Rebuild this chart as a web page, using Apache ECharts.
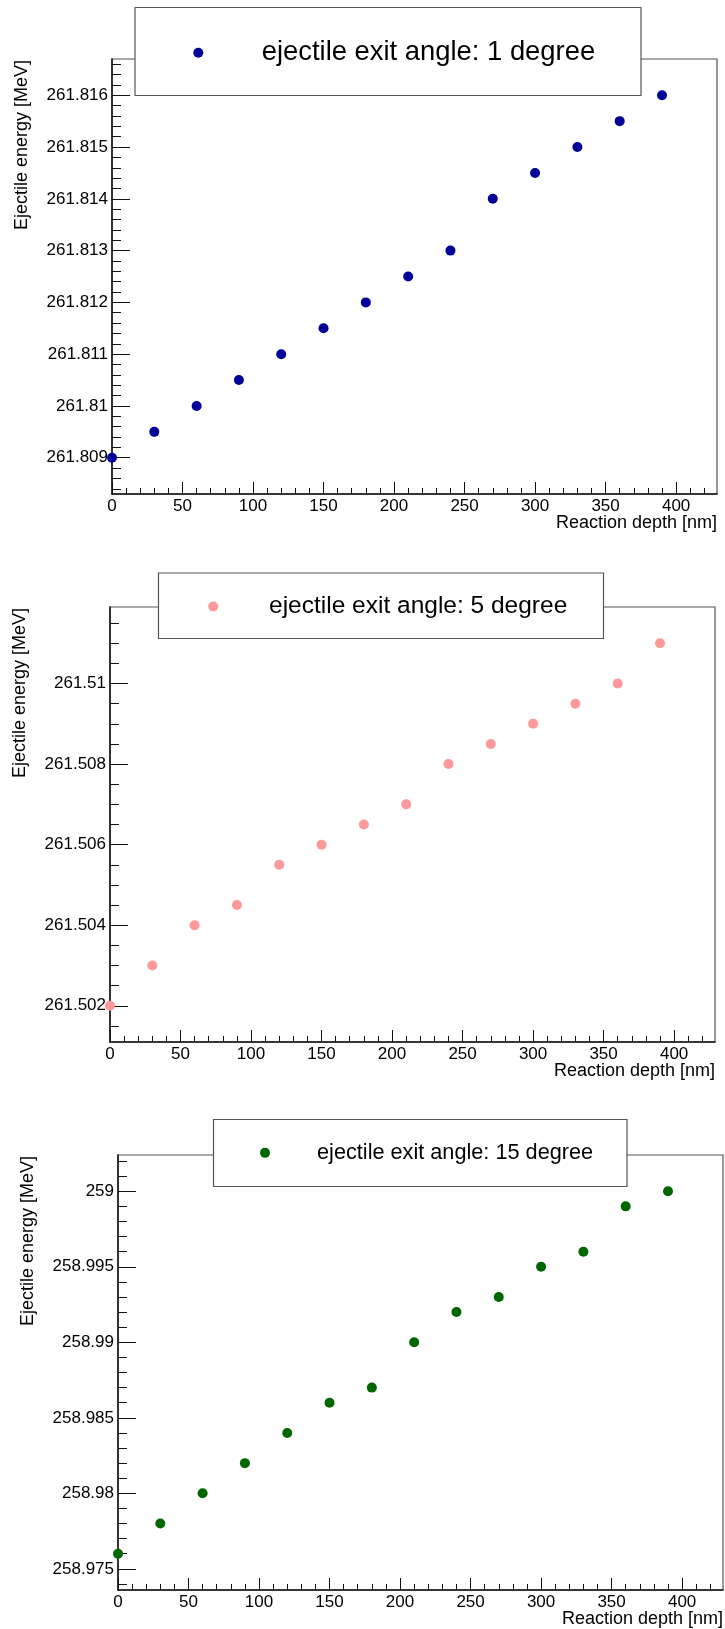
<!DOCTYPE html>
<html>
<head>
<meta charset="utf-8">
<script src="https://cdn.jsdelivr.net/npm/echarts@6/dist/echarts.min.js"></script>
<style>
  html, body { margin: 0; padding: 0; background: #ffffff; }
  #chart { width: 725px; height: 1629px; }
</style>
</head>
<body>
<div id="chart"></div>
<script>
// Reaction depth in nm, shared by the three exit-angle scans
const depth = [0, 30, 60, 90, 120, 150, 180, 210, 240, 270, 300, 330, 360, 390];

// Ejectile energy in MeV for each exit angle
const energy1deg  = [261.809, 261.8095, 261.810, 261.8105, 261.811, 261.8115, 261.812,
                     261.8125, 261.813, 261.814, 261.8145, 261.815, 261.8155, 261.816];
const energy5deg  = [261.502, 261.503, 261.504, 261.5045, 261.5055, 261.506, 261.5065,
                     261.507, 261.508, 261.5085, 261.509, 261.5095, 261.510, 261.511];
const energy15deg = [258.976, 258.978, 258.980, 258.982, 258.984, 258.986, 258.987,
                     258.990, 258.992, 258.993, 258.995, 258.996, 258.999, 259.000];

const seriesNames = [
  'ejectile exit angle: 1 degree',
  'ejectile exit angle: 5 degree',
  'ejectile exit angle: 15 degree'
];

// Labelled ticks
const depthTicks    = [0, 50, 100, 150, 200, 250, 300, 350, 400];
const energyTicks1  = [261.809, 261.81, 261.811, 261.812, 261.813, 261.814, 261.815, 261.816];
const energyTicks5  = [261.502, 261.504, 261.506, 261.508, 261.51];
const energyTicks15 = [258.975, 258.98, 258.985, 258.99, 258.995, 259];

// Axis ranges (10% padding around the data, as the graphs were drawn)
const depthRange    = [0, 429];
const energyRange1  = [261.8083, 261.8167];
const energyRange5  = [261.5011, 261.5119];
const energyRange15 = [258.9736, 259.0024];

const FONT = "'Liberation Sans', Arial, Helvetica, sans-serif";
const INK = '#111111';
const FRAME = '#555555';

// Small ticks between the labelled ones
function minorTicks(range, step, majors) {
  const out = [];
  const n0 = Math.ceil(range[0] / step - 1e-6);
  const n1 = Math.floor(range[1] / step + 1e-6);
  for (let n = n0; n <= n1; n++) {
    const v = +(n * step).toFixed(8);
    if (!majors.some(m => Math.abs(m - v) < step * 1e-3)) out.push(v);
  }
  return out;
}

const fmt = v => String(parseFloat((+v).toFixed(6)));

// legend: marker centre (cx, cy), where the text starts, and font size
const panels = [
  {
    name: seriesNames[0], x: depth, y: energy1deg, color: '#000099',
    yTicks: energyTicks1, yRange: energyRange1, yMinorStep: 0.0002,
    grid: { left: 112, top: 59, width: 605, height: 435 },
    box: { x: 135, y: 7.5, width: 506, height: 88 },
    legend: { cx: 198.3, cy: 51.7, textX: 261.7, fontSize: 27.4 }
  },
  {
    name: seriesNames[1], x: depth, y: energy5deg, color: '#ff9999',
    yTicks: energyTicks5, yRange: energyRange5, yMinorStep: 0.0005,
    grid: { left: 110, top: 607, width: 605, height: 435 },
    box: { x: 158.5, y: 573, width: 445, height: 65.5 },
    legend: { cx: 213.2, cy: 605.7, textX: 269, fontSize: 24.5 }
  },
  {
    name: seriesNames[2], x: depth, y: energy15deg, color: '#006600',
    yTicks: energyTicks15, yRange: energyRange15, yMinorStep: 0.001,
    grid: { left: 118, top: 1155, width: 605, height: 435 },
    box: { x: 213.5, y: 1119.5, width: 413.5, height: 67 },
    legend: { cx: 265, cy: 1152.7, textX: 317, fontSize: 21.7 }
  }
];

const grids = [], xAxes = [], yAxes = [], series = [], legends = [], graphics = [];

panels.forEach((p, i) => {
  grids.push(Object.assign({
    show: true, borderColor: FRAME, borderWidth: 1.2, backgroundColor: 'transparent',
    containLabel: false
  }, p.grid));

  const xMinor = minorTicks(depthRange, 10, depthTicks);
  const yMinor = minorTicks(p.yRange, p.yMinorStep, p.yTicks);

  // primary x axis: line, long ticks, labels
  xAxes.push({
    type: 'value', gridIndex: i, position: 'bottom',
    min: depthRange[0], max: depthRange[1],
    axisLine: { show: true, lineStyle: { color: INK, width: 1.5 } },
    axisTick: { show: true, inside: true, length: 12, customValues: depthTicks,
                lineStyle: { color: INK, width: 1 } },
    axisLabel: { show: true, customValues: depthTicks, margin: 4, formatter: fmt,
                 color: '#000', fontSize: 17, fontFamily: FONT },
    splitLine: { show: false }
  });
  // secondary x axis: short ticks only
  xAxes.push({
    type: 'value', gridIndex: i, position: 'bottom', offset: 0,
    min: depthRange[0], max: depthRange[1],
    axisLine: { show: false },
    axisTick: { show: true, inside: true, length: 6, customValues: xMinor,
                lineStyle: { color: INK, width: 1 } },
    axisLabel: { show: false },
    splitLine: { show: false }
  });

  yAxes.push({
    type: 'value', gridIndex: i, position: 'left',
    min: p.yRange[0], max: p.yRange[1], scale: true,
    axisLine: { show: true, lineStyle: { color: INK, width: 1.5 } },
    axisTick: { show: true, inside: true, length: 18, customValues: p.yTicks,
                lineStyle: { color: INK, width: 1 } },
    axisLabel: { show: true, customValues: p.yTicks, margin: 4, formatter: fmt,
                 color: '#000', fontSize: 17, fontFamily: FONT },
    splitLine: { show: false }
  });
  yAxes.push({
    type: 'value', gridIndex: i, position: 'left', offset: 0,
    min: p.yRange[0], max: p.yRange[1], scale: true,
    axisLine: { show: false },
    axisTick: { show: true, inside: true, length: 9, customValues: yMinor,
                lineStyle: { color: INK, width: 1 } },
    axisLabel: { show: false },
    splitLine: { show: false }
  });

  series.push({
    name: p.name, type: 'scatter',
    xAxisIndex: 2 * i, yAxisIndex: 2 * i,
    symbol: 'circle', symbolSize: 10,
    itemStyle: { color: p.color, opacity: 1 },
    emphasis: { disabled: true },
    data: p.x.map((d, k) => [d, p.y[k]]),
    z: 5
  });

  const L = p.legend;
  const left = L.cx - 5;
  legends.push({
    data: [p.name], selectedMode: false, orient: 'horizontal',
    left: left, top: L.cy - 5 - 0.27 * L.fontSize,
    padding: 0, itemGap: 0,
    icon: 'circle', itemWidth: 10, itemHeight: 10,
    textStyle: { color: '#000', fontSize: L.fontSize, fontFamily: FONT, lineHeight: 10,
                 padding: [0, 0, 0, L.textX - left - 15] },
    z: 20
  });

  // legend frame
  graphics.push({
    type: 'rect', z: 15, silent: true,
    shape: { x: p.box.x, y: p.box.y, width: p.box.width, height: p.box.height },
    style: { fill: '#ffffff', stroke: FRAME, lineWidth: 1.2 }
  });

  const g = p.grid;
  // x axis title, right-aligned under the frame
  graphics.push({
    type: 'text', z: 15, silent: true,
    x: g.left + g.width, y: g.top + g.height + 29,
    style: { text: 'Reaction depth [nm]', fill: '#000', font: '18px ' + FONT,
             align: 'right', verticalAlign: 'middle' }
  });
  // y axis title, rotated and aligned to the top of the frame
  graphics.push({
    type: 'text', z: 15, silent: true,
    x: g.left - 89.5, y: g.top + 1, rotation: Math.PI / 2,
    style: { text: 'Ejectile energy [MeV]', fill: '#000', font: '18px ' + FONT,
             align: 'right', verticalAlign: 'middle' }
  });
});

const chart = echarts.init(document.getElementById('chart'), null, { renderer: 'canvas' });
chart.setOption({
  backgroundColor: '#ffffff',
  animation: false,
  grid: grids,
  xAxis: xAxes,
  yAxis: yAxes,
  legend: legends,
  series: series,
  graphic: graphics
});
</script>
</body>
</html>
